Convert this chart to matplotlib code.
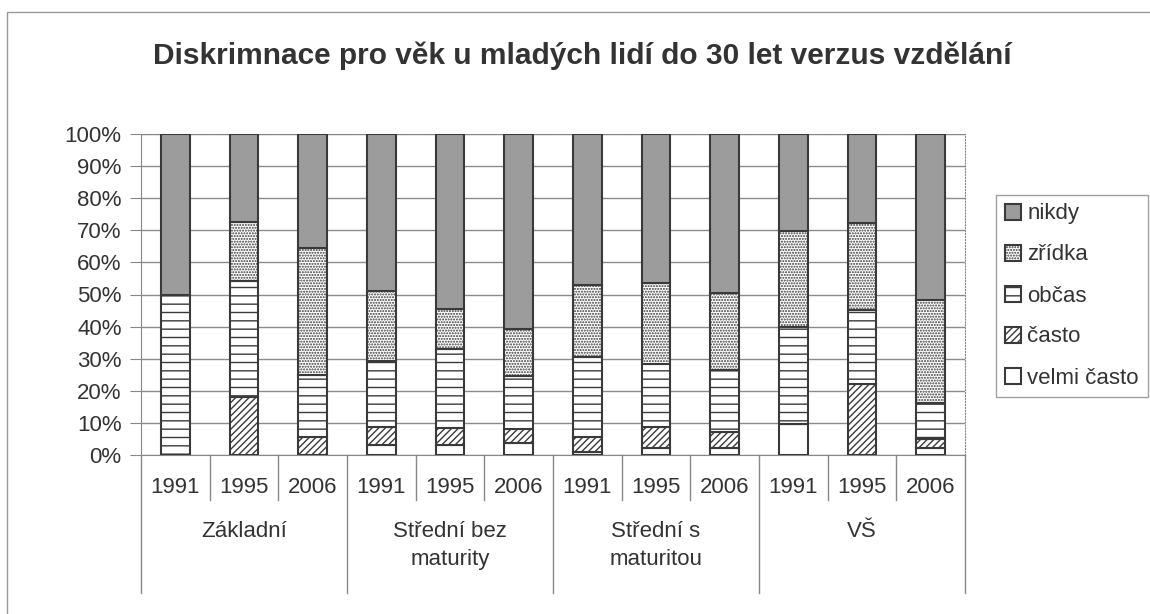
import matplotlib
matplotlib.use('Agg')
import matplotlib.pyplot as plt
from matplotlib.patches import Rectangle
from matplotlib.ticker import FuncFormatter

#==================================================================================================
# Data (percent shares)
#==================================================================================================
years = ['1991', '1995', '2006'] * 4
groups = ['Základní', 'Střední bez\nmaturity', 'Střední s\nmaturitou', 'VŠ']

velmi_casto = [0, 0, 0, 3.1, 3.1, 3.6, 1.0, 2.3, 2.3, 9.7, 0, 2.1]
casto = [0, 18.2, 5.7, 5.7, 5.2, 4.4, 4.5, 6.5, 5.0, 0, 22.1, 2.8]
obcas = [50.0, 36.0, 19.2, 20.6, 24.6, 16.7, 24.9, 19.5, 19.2, 30.1, 23.1, 11.4]
zridka = [0, 18.5, 39.5, 21.8, 12.5, 14.5, 22.6, 25.2, 23.9, 30.0, 27.0, 32.0]
nikdy = [50.0, 27.3, 35.6, 48.8, 54.6, 60.8, 47.0, 46.5, 49.6, 30.2, 27.8, 51.7]

series = [
    ('velmi často', velmi_casto, 'white', ''),
    ('často', casto, 'white', '/////'),
    ('občas', obcas, 'white', '--'),
    ('zřídka', zridka, 'white', '......'),
    ('nikdy', nikdy, '#9c9c9c', ''),
]

#==================================================================================================
# Plot
#==================================================================================================
plt.rcParams['font.family'] = ['Liberation Sans', 'DejaVu Sans']
plt.rcParams['hatch.linewidth'] = 1.0
text_color = '#333333'

fig = plt.figure(figsize=(11.5, 6.14), dpi=100)
ax = fig.add_axes([141 / 1150, 1 - 455 / 614, (965 - 141) / 1150, (455 - 134) / 614])

# outer chart frame
fig.patches.append(Rectangle((7 / 1150, -0.05), 1.1, 1 - 12 / 614 + 0.05, transform=fig.transFigure,
                             fill=False, edgecolor='#999999', linewidth=1.0))

x = list(range(len(years)))
bottom = [0.0] * len(years)
handles = []
for label, vals, face, hatch in series:
    bars = ax.bar(x, vals, width=0.42, bottom=bottom, color=face, edgecolor='#3a3a3a',
                  linewidth=1.5, hatch=hatch, label=label, zorder=3)
    handles.append(bars)
    bottom = [b + v for b, v in zip(bottom, vals)]

ax.set_xlim(-0.5, len(years) - 0.5)
ax.set_ylim(0, 100)
ax.set_yticks(range(0, 101, 10))
ax.yaxis.set_major_formatter(FuncFormatter(lambda v, p: f'{int(v)}%'))
ax.yaxis.grid(True, color='#8c8c8c', linewidth=1.0, zorder=0)
ax.tick_params(axis='y', length=8, color='#888888', labelsize=16, labelcolor=text_color, pad=6)

ax.set_xticks(x)
ax.set_xticklabels(years)
ax.tick_params(axis='x', length=0, labelsize=16, labelcolor=text_color, pad=16)

for side in ['top', 'right']:
    ax.spines[side].set_linestyle(':')
    ax.spines[side].set_color('#888888')
for side in ['left', 'bottom']:
    ax.spines[side].set_color('#888888')

# multi-level category axis
trans = ax.get_xaxis_transform()
for i in range(len(years) + 1):
    depth = -0.43 if i % 3 == 0 else -0.14
    ax.plot([i - 0.5, i - 0.5], [0, depth], transform=trans, clip_on=False,
            color='#888888', linewidth=1.0)
for g, name in enumerate(groups):
    ax.text(g * 3 + 1, -0.205, name, transform=trans, ha='center', va='top',
            fontsize=16, color=text_color, linespacing=1.45)

fig.text(582 / 1150, 1 - 56 / 614, 'Diskrimnace pro věk u mladých lidí do 30 let verzus vzdělání',
         ha='center', va='center', fontsize=21.5, fontweight='bold', color=text_color)

leg = fig.legend(handles[::-1], [s[0] for s in series][::-1], loc='center left',
                 bbox_to_anchor=(985 / 1150, 1 - 296 / 614), fontsize=16, frameon=True,
                 fancybox=False, edgecolor='#888888', handlelength=0.7, handleheight=0.7,
                 handletextpad=0.3, labelspacing=0.9, borderpad=0.4, labelcolor=text_color)
leg.get_frame().set_linewidth(1.0)

fig.savefig('out.png', dpi=100)
